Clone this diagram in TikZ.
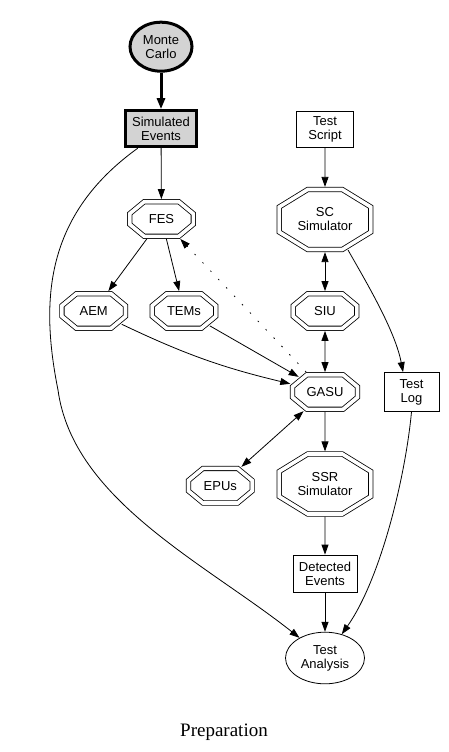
\documentclass[tikz,border=0pt]{standalone}
\usepackage{fontspec}
\setmainfont{Liberation Sans}
\newfontfamily\capfont{Liberation Serif}
\usetikzlibrary{shapes.geometric,arrows.meta}
\definecolor{lgray}{RGB}{211,211,211}
\makeatletter
\newdimen\octxa \newdimen\octya \newdimen\octxb \newdimen\octyb
\newdimen\octhw \newdimen\octhh \newdimen\octcxd \newdimen\octcyd
\newdimen\octta \newdimen\octtb
\pgfkeys{/pgf/oct cx/.initial=14pt,/pgf/oct cy/.initial=12pt,/pgf/oct out/.initial=2.6pt}
\pgfdeclareshape{octo}{%
  \inheritsavedanchors[from=rectangle]%
  \inheritanchor[from=rectangle]{center}%
  \inheritanchor[from=rectangle]{north}%
  \inheritanchor[from=rectangle]{south}%
  \inheritanchor[from=rectangle]{east}%
  \inheritanchor[from=rectangle]{west}%
  \inheritanchor[from=rectangle]{text}%
  \inheritanchor[from=rectangle]{base}%
  \saveddimen\octcx{\pgfmathsetlength\pgf@x{\pgfkeysvalueof{/pgf/oct cx}}}%
  \saveddimen\octcy{\pgfmathsetlength\pgf@x{\pgfkeysvalueof{/pgf/oct cy}}}%
  \saveddimen\octout{\pgfmathsetlength\pgf@x{\pgfkeysvalueof{/pgf/oct out}}}%
  \backgroundpath{%
    \pgf@process{\southwest}\octxa=\pgf@x \octya=\pgf@y
    \pgf@process{\northeast}\octxb=\pgf@x \octyb=\pgf@y
    \octcxd=\octcx\relax \octcyd=\octcy\relax
    \pgfpathmoveto{\pgfqpoint{\octxb}{\dimexpr\octyb-\octcyd\relax}}%
    \pgfpathlineto{\pgfqpoint{\dimexpr\octxb-\octcxd\relax}{\octyb}}%
    \pgfpathlineto{\pgfqpoint{\dimexpr\octxa+\octcxd\relax}{\octyb}}%
    \pgfpathlineto{\pgfqpoint{\octxa}{\dimexpr\octyb-\octcyd\relax}}%
    \pgfpathlineto{\pgfqpoint{\octxa}{\dimexpr\octya+\octcyd\relax}}%
    \pgfpathlineto{\pgfqpoint{\dimexpr\octxa+\octcxd\relax}{\octya}}%
    \pgfpathlineto{\pgfqpoint{\dimexpr\octxb-\octcxd\relax}{\octya}}%
    \pgfpathlineto{\pgfqpoint{\octxb}{\dimexpr\octya+\octcyd\relax}}%
    \pgfpathclose
  }%
  \anchorborder{%
    \octxb=\pgf@x \octyb=\pgf@y
    \pgf@process{\southwest}\octxa=\pgf@x \octya=\pgf@y
    \pgf@process{\northeast}%
    \octhw=.5\pgf@x \advance\octhw by -.5\octxa
    \octhh=.5\pgf@y \advance\octhh by -.5\octya
    \advance\octxa by \octhw \advance\octya by \octhh
    \pgfpointnormalised{\pgfqpoint{\octxb}{\octyb}}%
    \edef\octdx{\pgf@sys@tonumber\pgf@x}\edef\octdy{\pgf@sys@tonumber\pgf@y}%
    \octcxd=\octcx\relax \octcyd=\octcy\relax
    \edef\octccx{\pgf@sys@tonumber\octcxd}\edef\octccy{\pgf@sys@tonumber\octcyd}%
    \octcxd=\octout\relax
    \edef\octo@out{\pgf@sys@tonumber\octcxd}%
    \pgfmathsetmacro\octa{\pgf@sys@tonumber\octhw+\octo@out}%
    \pgfmathsetmacro\octb{\pgf@sys@tonumber\octhh+\octo@out}%
    \pgfmathsetmacro\octux{max(abs(\octdx),0.004)}%
    \pgfmathsetmacro\octuy{max(abs(\octdy),0.004)}%
    \pgfmathsetmacro\octtone{\octa/\octux}%
    \pgfmathsetmacro\octttwo{\octb/\octuy}%
    \pgfmathsetmacro\octtthree{(\octccy*\octa+\octccx*\octb-\octccx*\octccy)/(\octccy*abs(\octdx)+\octccx*abs(\octdy))}%
    \pgfmathsetmacro\octt{min(\octtone,\octttwo,\octtthree)}%
    \pgfmathsetlength\octta{\octt*\octdx}%
    \pgfmathsetlength\octtb{\octt*\octdy}%
    \pgf@x=\octta \advance\pgf@x by \octxa
    \pgf@y=\octtb \advance\pgf@y by \octya
  }%
}
\makeatother
\begin{document}
\begin{tikzpicture}[x=1pt,y=-1pt,
  every node/.style={font=\fontsize{13}{14}\selectfont, align=center, inner sep=0pt},
  oct/.style={octo, draw, double, double distance=3.6pt, line width=0.8pt,
    minimum width=63.6pt, minimum height=34.6pt, outer sep=0pt,
    oct cx=14.5pt, oct cy=12pt, oct out=2.6pt},
  bigoct/.style={oct, minimum width=91.6pt, minimum height=60pt,
    oct cx=28.5pt, oct cy=17.5pt},
  boxnode/.style={rectangle, draw, line width=0.8pt},
  ell/.style={ellipse, draw, line width=0.8pt},
  edge/.style={line width=0.8pt, -{Triangle[length=10pt,width=7pt]}},
  dedge/.style={line width=0.8pt, {Triangle[length=10pt,width=7pt]}-{Triangle[length=10pt,width=7pt]}},
]
\useasboundingbox (0,0) rectangle (448,752);
% nodes
\node[ell, line width=3pt, fill=lgray, minimum width=62pt, minimum height=49pt] (mc) at (161,46.7) {Monte\\Carlo};
\node[boxnode, line width=3pt, fill=lgray, minimum width=71pt, minimum height=36pt] (se) at (161,128.7) {Simulated\\Events};
\node[oct] (fes) at (161.5,219) {FES};
\node[oct] (aem) at (93.7,311) {AEM};
\node[oct] (tems) at (184,311) {TEMs};
\node[boxnode, minimum width=56.6pt, minimum height=36.7pt] (ts) at (325,129.3) {Test\\Script};
\node[bigoct] (sc) at (325,219.5) {SC\\Simulator};
\node[oct] (siu) at (325,311) {SIU};
\node[boxnode, minimum width=55pt, minimum height=39pt] (tl) at (411.5,392) {Test\\Log};
\node[oct, minimum width=65pt] (gasu) at (325,392) {GASU};
\node[oct] (epus) at (220.3,485.7) {EPUs};
\node[bigoct] (ssr) at (325,484) {SSR\\Simulator};
\node[boxnode, minimum width=64pt, minimum height=37pt] (de) at (325,573.5) {Detected\\Events};
\node[ell, minimum width=79pt, minimum height=51.6pt] (ta) at (325,658) {Test\\Analysis};
\node[anchor=base, font=\capfont\fontsize{19}{22}\selectfont] (cap) at (224,736) {Preparation};
% edges
\draw[edge, line width=3pt, -{Triangle[length=11pt,width=8pt]}] (mc) -- (se);
\draw[edge] (se) -- (fes);
\draw[edge] (se.-140) .. controls (45,215) and (40,300) .. (58,390)
  .. controls (73,500) and (205,563) .. (ta);
\draw[edge] (fes) -- (aem);
\draw[edge] (fes) -- (tems);
\draw[edge, dash pattern=on 1.5pt off 10pt] (gasu) -- (fes);
\draw[edge] (aem) to[bend right=6] (gasu);
\draw[edge] (tems) -- (gasu);
\draw[edge] (ts) -- (sc);
\draw[dedge] (sc) -- (siu);
\draw[dedge] (siu) -- (gasu);
\draw[edge] (sc.-53) .. controls (365,280) and (395,330) .. (tl.113);
\draw[dedge] (gasu) -- (epus);
\draw[edge] (gasu) -- (ssr);
\draw[edge] (ssr) -- (de);
\draw[edge] (de) -- (ta);
\draw[edge] (tl.south) .. controls (405,480) and (380,580) .. (ta);
\end{tikzpicture}
\end{document}
